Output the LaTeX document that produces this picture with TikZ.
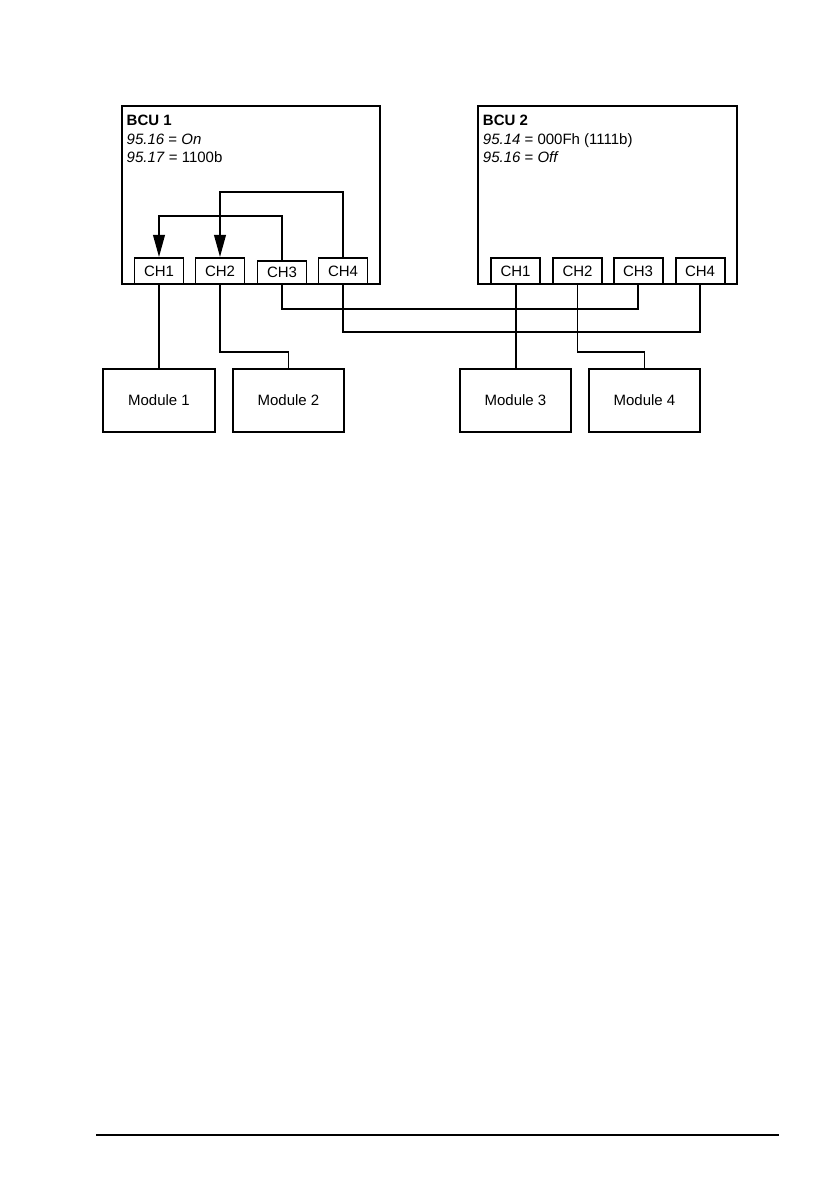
\documentclass[tikz,border=0pt]{standalone}
\usepackage{fontspec}
\setmainfont{Liberation Sans}
\usepackage{tikz}
\usetikzlibrary{arrows.meta}

\begin{document}
\begin{tikzpicture}[x=0.03cm, y=-0.03cm,
        unit/.style={draw, line width=1.7pt, minimum width=7.75cm, minimum height=5.34cm},
        chan/.style={draw, fill=white, line width=1.7pt, minimum width=1.47cm, minimum height=0.78cm, inner sep=0pt, font=\fontsize{12.8}{15}\selectfont},
        module/.style={draw, line width=1.7pt, minimum width=3.34cm, minimum height=1.89cm, font=\fontsize{12.8}{15}\selectfont},
        par/.style={anchor=base west, inner sep=0pt, font=\fontsize{12.8}{15}\selectfont},
        wire/.style={line width=1.3pt},
        loop/.style={line width=1.7pt, -{Triangle[length=19pt, width=10pt]}}]
        \useasboundingbox (0,0) rectangle (839,1191);
        % control units
        \node[unit] (bcuA) at (251,195) {};
        \node[unit] (bcuB) at (607.5,195) {};
        \node[par] (bcuAa) at (126.5,125.7) {\textbf{BCU 1}};
        \node[par] (bcuAb) at (126.5,144.3) {\textit{95.16} = \textit{On}};
        \node[par] (bcuAc) at (126.5,162.8) {\textit{95.17} = 1100b};
        \node[par] (bcuBa) at (482.7,125.7) {\textbf{BCU 2}};
        \node[par] (bcuBb) at (482.7,144.3) {\textit{95.14} = 000Fh (1111b)};
        \node[par] (bcuBc) at (482.7,162.8) {\textit{95.16} = \textit{Off}};
        % channels
        \node[chan] (chAa) at (159,271) {CH1};
        \node[chan] (chAb) at (220,271) {CH2};
        \node[chan, minimum height=0.69cm] (chAc) at (282,272.5) {CH3};
        \node[chan] (chAd) at (343,271) {CH4};
        \node[chan] (chBa) at (515.5,271) {\raisebox{-2pt}{CH1}};
        \node[chan] (chBb) at (577.5,271) {CH2};
        \node[chan] (chBc) at (638,271) {CH3};
        \node[chan] (chBd) at (700,271) {CH4};
        % modules
        \node[module] (modA) at (159,400.5) {Module 1};
        \node[module] (modB) at (288.5,400.5) {Module 2};
        \node[module] (modC) at (515.5,400.5) {Module 3};
        \node[module] (modD) at (644.5,400.5) {Module 4};
        % heights of the runs
        \coordinate (loopA) at (0,216);
        \coordinate (loopB) at (0,192);
        \coordinate (busA) at (0,309);
        \coordinate (busB) at (0,332);
        \coordinate (busC) at (0,352);
        % internal routing in BCU 1
        \draw[loop] (chAc.north) -- (chAc.north |- loopA) -| (chAa.north);
        \draw[loop] (chAd.north) -- (chAd.north |- loopB) -| (chAb.north);
        % links
        \draw[wire] (chAa.south) -- (modA.north);
        \draw[wire] (chAb.south) -- (chAb.south |- busC) -| (modB.north);
        \draw[wire] (chAc.south) -- (chAc.south |- busA) -| (chBc.south);
        \draw[wire] (chAd.south) -- (chAd.south |- busB) -| (chBd.south);
        \draw[line width=1.7pt] (chBa.south) -- (modC.north);
        \draw[wire] (chBb.south) -- (chBb.south |- busC) -| (modD.north);
        % page rule
        \draw[line width=0.9pt] (96,1135) -- (779,1135);
\end{tikzpicture}
\end{document}
